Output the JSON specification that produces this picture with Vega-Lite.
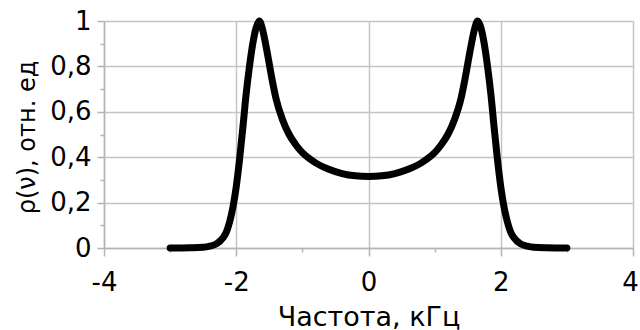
{
  "$schema": "https://vega.github.io/schema/vega-lite/v6.json",
  "width": 529,
  "height": 227,
  "autosize": {"type": "none"},
  "padding": {"left": 104, "top": 21, "right": 7, "bottom": 82},
  "background": "white",
  "data": {
    "values": [
      {"f": -3.0, "rho": 0.0},
      {"f": -2.7, "rho": 0.001},
      {"f": -2.5, "rho": 0.003},
      {"f": -2.4, "rho": 0.008},
      {"f": -2.3, "rho": 0.018},
      {"f": -2.2, "rho": 0.045},
      {"f": -2.15, "rho": 0.07},
      {"f": -2.1, "rho": 0.115},
      {"f": -2.05, "rho": 0.18},
      {"f": -2.0, "rho": 0.27},
      {"f": -1.95, "rho": 0.39},
      {"f": -1.9, "rho": 0.53},
      {"f": -1.85, "rho": 0.68},
      {"f": -1.8, "rho": 0.8},
      {"f": -1.75, "rho": 0.9},
      {"f": -1.7, "rho": 0.97},
      {"f": -1.65, "rho": 1.0},
      {"f": -1.6, "rho": 0.96},
      {"f": -1.55, "rho": 0.89},
      {"f": -1.5, "rho": 0.81},
      {"f": -1.45, "rho": 0.73},
      {"f": -1.4, "rho": 0.66},
      {"f": -1.3, "rho": 0.565},
      {"f": -1.2, "rho": 0.5},
      {"f": -1.1, "rho": 0.455},
      {"f": -1.0, "rho": 0.42},
      {"f": -0.9, "rho": 0.395},
      {"f": -0.8, "rho": 0.375},
      {"f": -0.6, "rho": 0.347},
      {"f": -0.4, "rho": 0.328},
      {"f": -0.2, "rho": 0.318},
      {"f": 0.0, "rho": 0.315},
      {"f": 0.2, "rho": 0.318},
      {"f": 0.4, "rho": 0.328},
      {"f": 0.6, "rho": 0.347},
      {"f": 0.8, "rho": 0.375},
      {"f": 0.9, "rho": 0.395},
      {"f": 1.0, "rho": 0.42},
      {"f": 1.1, "rho": 0.455},
      {"f": 1.2, "rho": 0.5},
      {"f": 1.3, "rho": 0.565},
      {"f": 1.4, "rho": 0.66},
      {"f": 1.45, "rho": 0.73},
      {"f": 1.5, "rho": 0.81},
      {"f": 1.55, "rho": 0.89},
      {"f": 1.6, "rho": 0.96},
      {"f": 1.65, "rho": 1.0},
      {"f": 1.7, "rho": 0.97},
      {"f": 1.75, "rho": 0.9},
      {"f": 1.8, "rho": 0.8},
      {"f": 1.85, "rho": 0.68},
      {"f": 1.9, "rho": 0.53},
      {"f": 1.95, "rho": 0.39},
      {"f": 2.0, "rho": 0.27},
      {"f": 2.05, "rho": 0.18},
      {"f": 2.1, "rho": 0.115},
      {"f": 2.15, "rho": 0.07},
      {"f": 2.2, "rho": 0.045},
      {"f": 2.3, "rho": 0.018},
      {"f": 2.4, "rho": 0.008},
      {"f": 2.5, "rho": 0.003},
      {"f": 2.7, "rho": 0.001},
      {"f": 3.0, "rho": 0.0}
    ]
  },
  "mark": {
    "type": "line",
    "color": "black",
    "strokeWidth": 7,
    "strokeCap": "round",
    "strokeJoin": "round",
    "interpolate": "monotone",
    "clip": false
  },
  "encoding": {
    "x": {
      "field": "f",
      "type": "quantitative",
      "scale": {"domain": [-4, 4], "nice": false, "zero": false},
      "axis": {
        "title": "Частота, кГц",
        "titleY": 77,
        "titleBaseline": "alphabetic",
        "values": [-4, -3, -2, -1, 0, 1, 2, 3, 4],
        "labelExpr": "abs(round(datum.value)) % 2 == 0 ? toString(datum.value) : ''",
        "labelPadding": 13,
        "labelOffset": {"condition": {"test": "datum.value == 4", "value": -3}, "value": 0},
        "tickSize": {"condition": {"test": "abs(round(datum.value)) % 2 == 0", "value": 8}, "value": 4},
        "gridOpacity": {"condition": {"test": "abs(round(datum.value)) % 2 == 0", "value": 1}, "value": 0}
      }
    },
    "y": {
      "field": "rho",
      "type": "quantitative",
      "scale": {"domain": [0, 1], "nice": false},
      "axis": {
        "title": "ρ(ν), отн. ед",
        "titleX": -70,
        "titleY": 116,
        "titleFontSize": 24,
        "titleBaseline": "alphabetic",
        "values": [0, 0.1, 0.2, 0.3, 0.4, 0.5, 0.6, 0.7, 0.8, 0.9, 1],
        "labelExpr": "abs(round(datum.value * 10)) % 2 == 0 ? replace(toString(datum.value), '.', ',') : ''",
        "labelPadding": 6,
        "tickSize": {"condition": {"test": "abs(round(datum.value * 10)) % 2 == 0", "value": 7}, "value": 4},
        "gridOpacity": {"condition": {"test": "abs(round(datum.value * 10)) % 2 == 0", "value": 1}, "value": 0}
      }
    }
  },
  "config": {
    "view": {"stroke": null},
    "axis": {
      "grid": true,
      "gridColor": "#c4c4c4",
      "gridWidth": 1.5,
      "domainColor": "#b4b4b4",
      "domainWidth": 1.5,
      "tickColor": "#b4b4b4",
      "tickWidth": 1.5,
      "labelFont": "DejaVu Sans",
      "labelFontSize": 26,
      "labelColor": "black",
      "labelFlush": false,
      "labelOverlap": false,
      "titleFont": "DejaVu Sans",
      "titleFontSize": 27,
      "titleFontWeight": "normal",
      "titleColor": "black"
    }
  }
}
